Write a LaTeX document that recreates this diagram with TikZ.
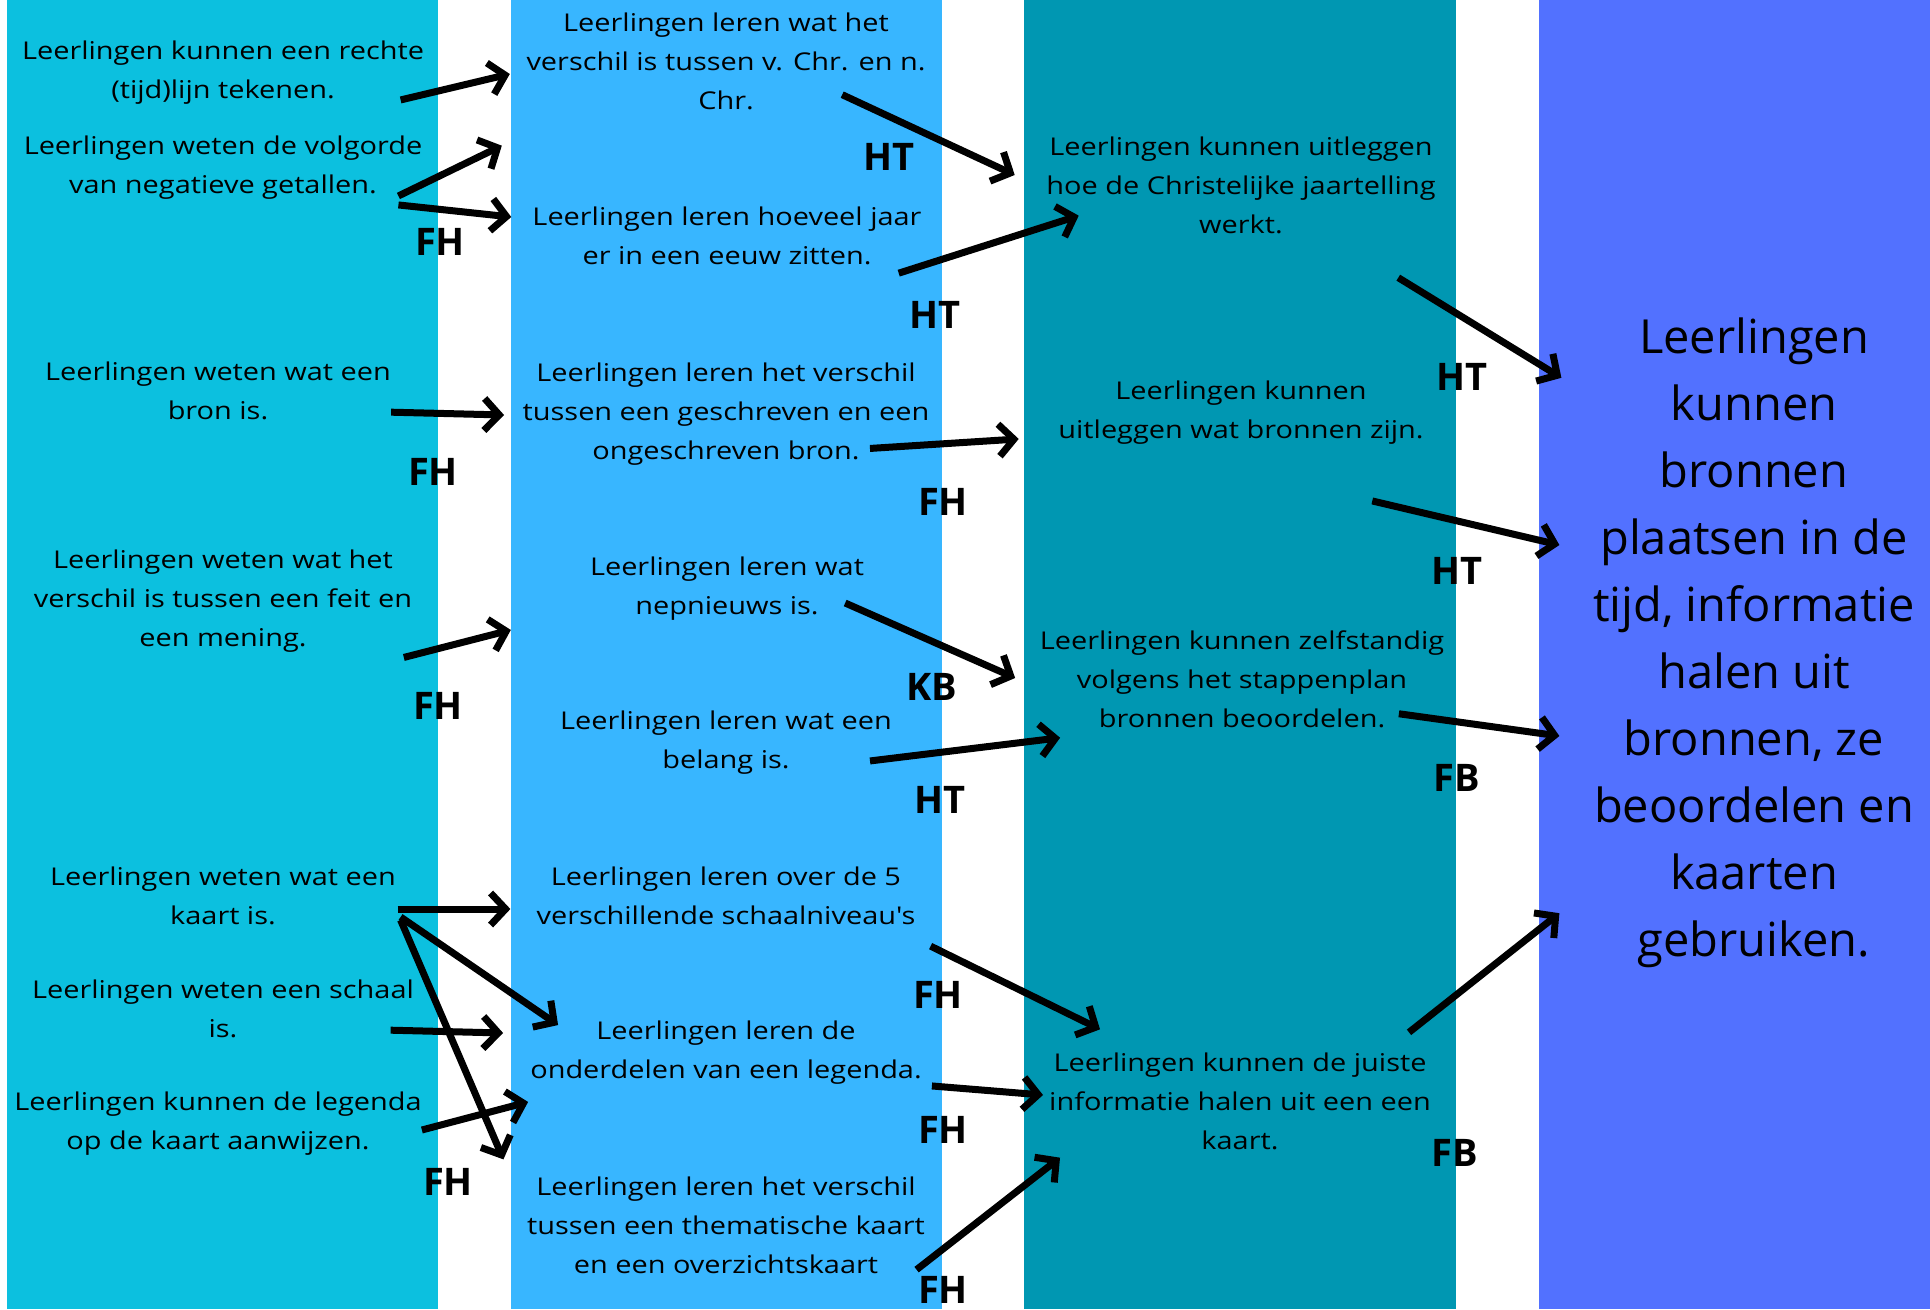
\documentclass[tikz,border=0pt]{standalone}
\usepackage{fontspec}
\setmainfont{Open Sans}
\newfontfamily\wideopen[FakeStretch=1.18]{Open Sans}
\usetikzlibrary{arrows.meta}
\definecolor{colcyan}{RGB}{12,192,223}
\definecolor{colsky}{RGB}{56,182,255}
\definecolor{colteal}{RGB}{0,151,178}
\definecolor{colblue}{RGB}{82,113,255}

\begin{document}
\begin{tikzpicture}[x=1pt,y=-1pt,
  goal/.style={align=center,inner sep=0pt,font=\wideopen\fontsize{24.5}{39}\selectfont},
  final/.style={align=center,inner sep=0pt,font=\fontsize{47}{67}\selectfont},
  tag/.style={inner sep=0pt,font=\bfseries\fontsize{38}{40}\selectfont},
  arrow/.style={-{Straight Barb[length=15pt,width=32pt]},line width=7pt}]
  \fill[white] (0,0) rectangle (1930,1309);
  \useasboundingbox (0,0) rectangle (1930,1309);
  % columns
  \fill[colcyan] (7,0) rectangle (438,1309);
  \fill[colsky] (511,0) rectangle (942,1309);
  \fill[colteal] (1024,0) rectangle (1456,1309);
  \fill[colblue] (1539,0) rectangle (1930,1309);
  % column 1
  \node[goal] (a1) at (223,73) {Leerlingen kunnen een rechte\\(tijd)lijn tekenen.};
  \node[goal] (a2) at (223,168) {Leerlingen weten de volgorde\\van negatieve getallen.};
  \node[goal] (a3) at (218,391) {Leerlingen weten wat een\\bron is.};
  \node[goal] (a4) at (223,601) {Leerlingen weten wat het\\verschil is tussen een feit en\\een mening.};
  \node[goal] (a5) at (223,896) {Leerlingen weten wat een\\kaart is.};
  \node[goal] (a6) at (223,1009) {Leerlingen weten een schaal\\is.};
  \node[goal] (a7) at (218,1124) {Leerlingen kunnen de legenda\\op de kaart aanwijzen.};
  % column 2
  \node[goal] (b1) at (726,61) {Leerlingen leren wat het\\verschil is tussen v. Chr. en n.\\Chr.};
  \node[goal] (b2) at (727,236) {Leerlingen leren hoeveel jaar\\er in een eeuw zitten.};
  \node[goal] (b3) at (726,414) {Leerlingen leren het verschil\\tussen een geschreven en een\\ongeschreven bron.};
  \node[goal] (b4) at (727,589) {Leerlingen leren wat\\nepnieuws is.};
  \node[goal] (b5) at (726,743) {Leerlingen leren wat een\\belang is.};
  \node[goal] (b6) at (726,896) {Leerlingen leren over de 5\\verschillende schaalniveau's};
  \node[goal] (b7) at (726,1053) {Leerlingen leren de\\onderdelen van een legenda.};
  \node[goal] (b8) at (726,1225) {Leerlingen leren het verschil\\tussen een thematische kaart\\en een overzichtskaart};
  % column 3
  \node[goal] (c1) at (1241,185) {Leerlingen kunnen uitleggen\\hoe de Christelijke jaartelling\\werkt.};
  \node[goal] (c2) at (1241,413) {Leerlingen kunnen\\uitleggen wat bronnen zijn.};
  \node[goal] (c3) at (1242,679) {Leerlingen kunnen zelfstandig\\volgens het stappenplan\\bronnen beoordelen.};
  \node[goal] (c4) at (1240,1101) {Leerlingen kunnen de juiste\\informatie halen uit een een\\kaart.};
  % column 4
  \node[final] (d) at (1754,643) {Leerlingen\\kunnen\\bronnen\\plaatsen in de\\tijd, informatie\\halen uit\\bronnen, ze\\beoordelen en\\kaarten\\gebruiken.};
  % labels
  \node[tag] (t1) at (440,242) {FH};
  \node[tag] (t2) at (889,157) {HT};
  \node[tag] (t3) at (935,315) {HT};
  \node[tag] (t4) at (433,472) {FH};
  \node[tag] (t5) at (943,502) {FH};
  \node[tag] (t6) at (1462,377) {HT};
  \node[tag] (t7) at (1457,571) {HT};
  \node[tag] (t8) at (438,706) {FH};
  \node[tag] (t9) at (932,687) {KB};
  \node[tag] (t10) at (940,800) {HT};
  \node[tag] (t11) at (1457,778) {FB};
  \node[tag] (t12) at (938,995) {FH};
  \node[tag] (t13) at (943,1130) {FH};
  \node[tag] (t14) at (448,1182) {FH};
  \node[tag] (t15) at (1455,1153) {FB};
  \node[tag] (t16) at (943,1290) {FH};
  % arrows column 1 -> column 2
  \draw[arrow] ([shift={(-23.5,-5)}]a1.south east) -- ([shift={(-16.5,13)}]b1.west);
  \draw[arrow] ([shift={(-24,-4)}]a2.south east) -- ([shift={(-24.5,36)}]b1.south west);
  \draw[arrow] ([shift={(-24,5)}]a2.south east) -- ([shift={(-21,-19)}]b2.west);
  \draw[arrow] ([shift={(0,-8)}]a3.south east) -- ([shift={(-18.5,1)}]b3.west);
  \draw[arrow] ([shift={(-8.5,5)}]a4.south east) -- ([shift={(-79,9)}]b4.south west);
  \draw[arrow] ([shift={(1.5,13)}]a5.east) -- ([shift={(-26,13)}]b6.west);
  \draw[arrow] ([shift={(4.5,21)}]a5.east) -- ([shift={(28,4)}]b7.north west);
  \draw[arrow] ([shift={(4.5,24)}]a5.east) -- ([shift={(-23.5,-17)}]b8.north west);
  \draw[arrow] ([shift={(-23.5,-8)}]a6.south east) -- ([shift={(-27,-20)}]b7.west);
  \draw[arrow] ([shift={(0,6)}]a7.east) -- ([shift={(-2,17)}]b7.south west);
  % arrows column 2 -> column 3
  \draw[arrow] ([shift={(-83.5,-15)}]b1.south east) -- ([shift={(-31.5,-10)}]c1.west);
  \draw[arrow] ([shift={(-23,8)}]b2.south east) -- ([shift={(32.5,-18)}]c1.south west);
  \draw[arrow] ([shift={(-59.5,-17)}]b3.south east) -- ([shift={(-39.5,-6)}]c2.south west);
  \draw[arrow] ([shift={(-19,14)}]b4.east) -- ([shift={(-24.5,-1)}]c3.west);
  \draw[arrow] ([shift={(-22,-14)}]b5.south east) -- ([shift={(20.5,10)}]c3.south west);
  \draw[arrow] ([shift={(15,21)}]b6.south east) -- ([shift={(51,-23)}]c4.north west);
  \draw[arrow] ([shift={(10,1)}]b7.south east) -- ([shift={(-6,-6)}]c4.west);
  \draw[arrow] ([shift={(-8.5,-4)}]b8.south east) -- ([shift={(11,8)}]c4.south west);
  % arrows column 3 -> column 4
  \draw[arrow] ([shift={(-37.5,44)}]c1.south east) -- ([shift={(-31.5,60)}]d.north west);
  \draw[arrow] ([shift={(-51.5,56)}]c2.south east) -- ([shift={(-33.5,-98)}]d.west);
  \draw[arrow] ([shift={(-45.5,-14)}]c3.south east) -- ([shift={(-33.5,93)}]d.west);
  \draw[arrow] ([shift={(-22,-20)}]c4.north east) -- ([shift={(-33.5,-55)}]d.south west);
\end{tikzpicture}
\end{document}
